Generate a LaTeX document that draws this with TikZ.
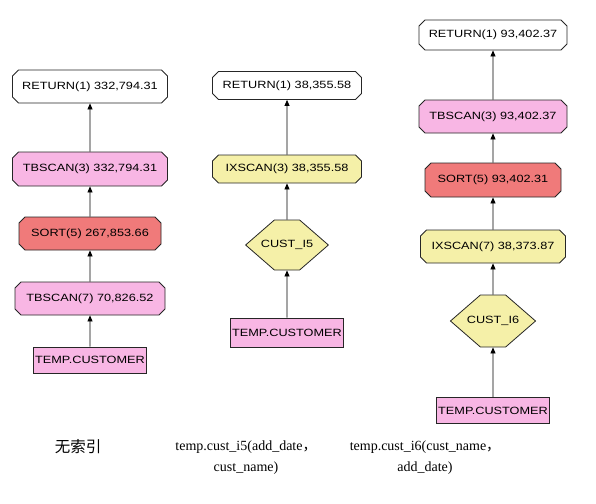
\documentclass[tikz,border=0pt]{standalone}
\usepackage{fontspec}
\setmainfont{Liberation Serif}
\newfontfamily\opfont[FakeStretch=1.21]{Liberation Sans}
\newfontfamily\cjk{Noto Sans CJK SC}
\usetikzlibrary{arrows.meta,shapes.misc,shapes.symbols}
\definecolor{planpink}{RGB}{248,182,228}
\definecolor{planred}{RGB}{240,122,122}
\definecolor{planyellow}{RGB}{245,240,168}

\begin{document}
\begin{tikzpicture}[x=1pt,y=-1pt,
  op/.style={draw=black!85,line width=.8pt,chamfered rectangle,
    chamfered rectangle xsep=3pt,chamfered rectangle ysep=3pt,
    inner sep=0pt,font=\opfont\fontsize{10.5}{12}\selectfont},
  idx/.style={draw=black!85,line width=.8pt,signal,signal to=east and west,
    signal pointer angle=82,fill=planyellow,inner ysep=0pt,inner xsep=-13.5pt,
    font=\opfont\fontsize{10.5}{12}\selectfont},
  tab/.style={draw=black!85,line width=.8pt,rectangle,fill=planpink,
    inner sep=0pt,minimum width=113pt,font=\opfont\fontsize{10.5}{12}\selectfont},
  captext/.style={align=center,font=\fontsize{14}{21}\selectfont},
  flow/.style={-{Triangle[length=6pt,width=5pt]},line width=.8pt}]
\useasboundingbox (0,0) rectangle (596,503);

% no index
\node[op,fill=white,minimum width=155pt,minimum height=33pt] (r1) at (90,86.5) {RETURN(1) 332,794.31};
\node[op,fill=planpink,minimum width=155pt,minimum height=34pt] (t13) at (90,169) {TBSCAN(3) 332,794.31};
\node[op,fill=planred,minimum width=142pt,minimum height=33pt] (s15) at (90,233.5) {SORT(5) 267,853.66};
\node[op,fill=planpink,minimum width=150pt,minimum height=33pt] (t17) at (90,298.5) {TBSCAN(7) 70,826.52};
\node[tab,minimum height=26pt] (c1) at (90,360) {TEMP.CUSTOMER};
\draw[flow] (c1) -- (t17);
\draw[flow] (t17) -- (s15);
\draw[flow] (s15) -- (t13);
\draw[flow] (t13) -- (r1);

% cust_i5
\node[op,fill=white,minimum width=149pt,minimum height=28pt] (r2) at (287,85.5) {RETURN(1) 38,355.58};
\node[op,fill=planyellow,minimum width=149pt,minimum height=28pt] (i23) at (287,169) {IXSCAN(3) 38,355.58};
\node[idx,minimum height=50pt] (k2) at (287,245) {CUST\_I5};
\node[tab,minimum height=29pt] (c2) at (287,332.5) {TEMP.CUSTOMER};
\draw[flow] (c2) -- (k2);
\draw[flow] (k2) -- (i23);
\draw[flow] (i23) -- (r2);

% cust_i6
\node[op,fill=white,minimum width=148pt,minimum height=30pt] (r3) at (493,35) {RETURN(1) 93,402.37};
\node[op,fill=planpink,minimum width=148pt,minimum height=33pt] (t33) at (493,116.5) {TBSCAN(3) 93,402.37};
\node[op,fill=planred,minimum width=136pt,minimum height=34pt] (s35) at (493,180) {SORT(5) 93,402.31};
\node[op,fill=planyellow,minimum width=145pt,minimum height=33pt] (i37) at (493,246.5) {IXSCAN(7) 38,373.87};
\node[idx,minimum height=52pt] (k3) at (493,321) {CUST\_I6};
\node[tab,minimum height=26pt] (c3) at (493,410.5) {TEMP.CUSTOMER};
\draw[flow] (c3) -- (k3);
\draw[flow] (k3) -- (i37);
\draw[flow] (i37) -- (s35);
\draw[flow] (s35) -- (t33);
\draw[flow] (t33) -- (r3);

% captions
\node[font=\cjk\fontsize{15.5}{18}\selectfont] (l1) at (78,447) {无索引};
\node[captext] (l2) at (246,457.5) {temp.cust\_i5(add\_date{\cjk，}\\cust\_name)};
\node[captext] (l3) at (425,457.5) {temp.cust\_i6(cust\_name{\cjk，}\\add\_date)};
\end{tikzpicture}
\end{document}
